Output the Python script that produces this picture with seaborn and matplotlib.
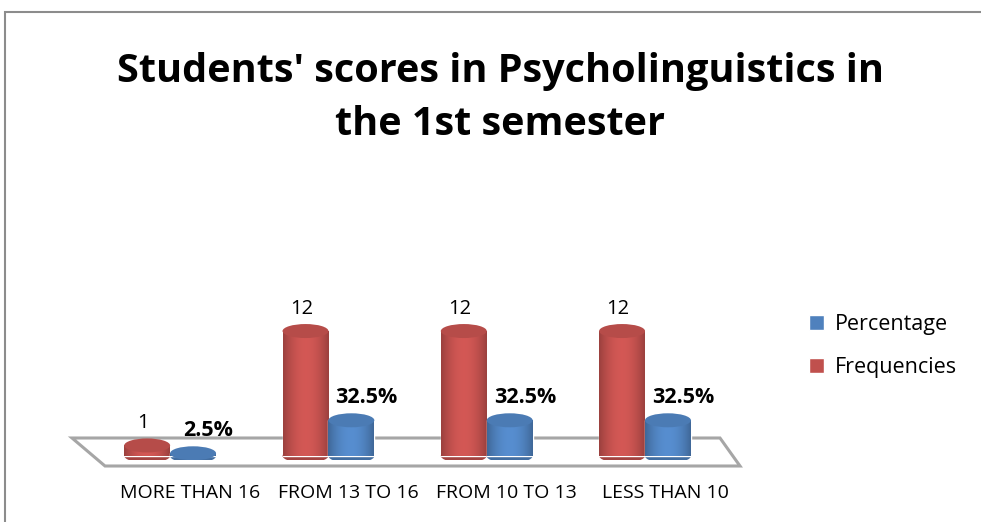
import numpy as np
import pandas as pd
import matplotlib
matplotlib.use('Agg')
import matplotlib.pyplot as plt
import matplotlib.transforms as mtransforms
from matplotlib.patches import Ellipse, Polygon, Rectangle, Patch
import seaborn as sns

#data
categories = ['MORE THAN 16', 'FROM 13 TO 16', 'FROM 10 TO 13', 'LESS THAN 10']
frequencies = [1, 12, 12, 12]
percentage = [2.5, 32.5, 32.5, 32.5]
series_order = ['Frequencies', 'Percentage']

red = '#C0504D'
blue = '#4F81BD'
palette = {'Frequencies': red, 'Percentage': blue}

df = pd.DataFrame({
    'band': categories * 2,
    'series': ['Frequencies'] * 4 + ['Percentage'] * 4,
    'value': frequencies + percentage,
})

sns.set_style('white')
plt.rcParams['font.family'] = ['Open Sans', 'DejaVu Sans']
plt.rcParams['text.color'] = 'black'
plt.rcParams['xtick.color'] = 'black'

fig = plt.figure(figsize=(9.81, 5.22), dpi=100)
W, H = 981, 522
ax = fig.add_axes([72 / W, 1 - 460 / H, (740 - 72) / W, 260 / H])
ax2 = ax.twinx()

#frequencies on the left scale, percentages on a hidden right scale
sns.barplot(data=df[df.series == 'Frequencies'], x='band', y='value', hue='series',
            order=categories, hue_order=series_order, palette=palette,
            dodge=True, width=0.58, ax=ax, legend=False, saturation=1)
sns.barplot(data=df[df.series == 'Percentage'], x='band', y='value', hue='series',
            order=categories, hue_order=series_order, palette=palette,
            dodge=True, width=0.58, ax=ax2, legend=False, saturation=1)

ylim1 = (-0.4, 24.6)
ylim2 = (-3.6, 232.8)
px1 = 260 / (ylim1[1] - ylim1[0])
px2 = 260 / (ylim2[1] - ylim2[0])


def shade(color, n=64):
    c = np.array(matplotlib.colors.to_rgb(color))
    t = np.linspace(0, 1, n)
    f = 0.62 + 0.48 * np.sin(np.pi * (t * 0.8 + 0.1)) ** 0.8
    rgb = np.clip(c[None, :] * f[:, None], 0, 1)
    return rgb[None, :, :]


def darker(color, k):
    return matplotlib.colors.to_hex(np.array(matplotlib.colors.to_rgb(color)) * k)


def cylinders(axis, color, pxu, labels, bold, dx, size):
    for p, lab in zip(list(axis.patches), labels):
        x0, w, h = p.get_x(), p.get_width(), p.get_height()
        if np.isnan(h):
            continue
        eh = 14 / pxu
        xc = x0 + w / 2
        axis.add_patch(Ellipse((xc, 0), w, eh, facecolor=darker(color, 0.85),
                               edgecolor='none', zorder=2))
        im = axis.imshow(shade(color), extent=[x0, x0 + w, 0, h], aspect='auto',
                         zorder=3, interpolation='bilinear')
        im.set_clip_path(p)
        p.set_zorder(2.5)
        axis.add_patch(Ellipse((xc, h), w, eh, facecolor=darker(color, 0.95),
                               edgecolor='none', zorder=4))
        axis.annotate(lab, (xc, h), xytext=(dx, 9), textcoords='offset points',
                      ha='center', va='bottom', fontsize=size,
                      fontweight='bold' if bold else 'normal', zorder=5)


cylinders(ax, red, px1, [str(v) for v in frequencies], False, -3, 14.5)
cylinders(ax2, blue, px2, [f'{v}%' for v in percentage], True, 11, 15.5)

ax.set_ylim(*ylim1)
ax2.set_ylim(*ylim2)
for a in (ax, ax2):
    a.set_xlim(-0.62, 3.6)
    a.set_yticks([])
    a.set_ylabel('')
    a.set_xlabel('')
    for s in a.spines.values():
        s.set_visible(False)
    a.patch.set_visible(False)
ax.set_zorder(2)
ax2.set_zorder(3)

ax.set_xticks(range(len(categories)))
ax.set_xticklabels(categories, fontsize=14)
ax.tick_params(axis='x', length=0, pad=17)
shift = mtransforms.ScaledTranslation(0.2, 0, fig.dpi_scale_trans)
for t in ax.get_xticklabels():
    t.set_transform(t.get_transform() + shift)

#floor of the 3d chart
floor_px = [(72, 438), (720, 438), (740, 466), (105, 466)]
floor = Polygon([(x / W, 1 - y / H) for x, y in floor_px], closed=True,
                facecolor='white', edgecolor='#a6a6a6', lw=2.2,
                transform=fig.transFigure, zorder=0)
fig.patches.append(floor)

#outer chart border (cropped)
fig.patches.append(Rectangle((5 / W, -0.2), 1.2, 1.2 - 12 / H, fill=False,
                             edgecolor='#8c8c8c', lw=1.5, transform=fig.transFigure))

fig.text(0.51, 1 - 98 / H, "Students' scores in Psycholinguistics in\nthe 1st semester",
         ha='center', va='center', fontsize=28.5, fontweight='bold', linespacing=1.45)

handles = [Patch(facecolor=blue), Patch(facecolor=red)]
fig.legend(handles, ['Percentage', 'Frequencies'], loc='upper left',
           bbox_to_anchor=(790 / W, 1 - 295 / H), frameon=False, fontsize=15.5,
           handlelength=0.7, handleheight=0.7, handletextpad=0.5, labelspacing=1.0)

fig.savefig('out.png', dpi=100)
